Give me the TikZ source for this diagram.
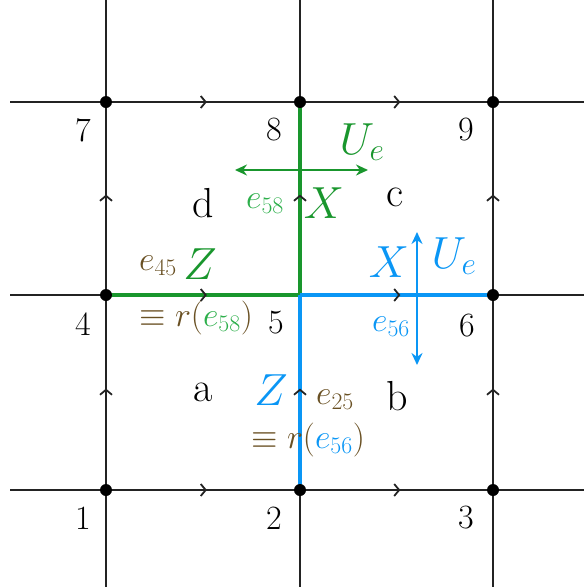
\RequirePackage{fix-cm}
\documentclass[tikz,border=0pt]{standalone}
\usetikzlibrary{arrows.meta,decorations.markings}
\definecolor{cgreen}{RGB}{25,150,45}
\definecolor{clgreen}{RGB}{45,175,75}
\definecolor{cblue}{RGB}{10,150,245}
\definecolor{cbrown}{RGB}{105,80,35}
\definecolor{cgrid}{RGB}{35,35,35}
\tikzset{
  gridline/.style={line width=2.8pt, cgrid},
  thickg/.style={line width=4.8pt, cgreen},
  thickb/.style={line width=4.8pt, cblue},
  midarrow/.style={decoration={markings, mark=at position 0.52 with {\arrow[cgrid,line width=1.8pt]{Straight Barb[length=5pt,width=12pt]}}}, postaction={decorate}},
  vdot/.style={circle, fill=black, inner sep=0pt, minimum size=12pt},
  num/.style={font=\fontsize{34}{38}\selectfont},
  face/.style={font=\fontsize{42}{46}\selectfont},
  bigsym/.style={font=\fontsize{45}{49}\selectfont, inner sep=0.5pt},
  lab/.style={font=\fontsize{34}{38}\selectfont, inner sep=0.5pt},
  dblarrow/.style={{Stealth[length=12pt,width=11pt]}-{Stealth[length=12pt,width=11pt]}, line width=2.2pt},
}
\begin{document}
\begin{tikzpicture}[x=1pt,y=-1pt]
\useasboundingbox (0,0) rectangle (584,587);
% vertices
\coordinate (v7) at (106,102); \coordinate (v8) at (300,102); \coordinate (v9) at (493,102);
\coordinate (v4) at (106,295); \coordinate (v5) at (300,295); \coordinate (v6) at (493,295);
\coordinate (v1) at (106,490); \coordinate (v2) at (300,490); \coordinate (v3) at (493,490);
% free ends
\coordinate (l7) at (10,102); \coordinate (r9) at (584,102);
\coordinate (l4) at (10,295); \coordinate (r6) at (584,295);
\coordinate (l1) at (10,490); \coordinate (r3) at (584,490);
\coordinate (t7) at (106,0); \coordinate (t8) at (300,0); \coordinate (t9) at (493,0);
\coordinate (b1) at (106,587); \coordinate (b2) at (300,587); \coordinate (b3) at (493,587);
% grid
\draw[gridline] (l7) -- (r9) (l4) -- (r6) (l1) -- (r3);
\draw[gridline] (t7) -- (b1) (t8) -- (b2) (t9) -- (b3);
% coloured edges
\draw[thickg] (v8) -- (v5) (v4) -- (v5);
\draw[thickb] (v5) -- (v6) (v5) -- (v2);
% orientation arrows
\foreach \a/\b in {v7/v8,v8/v9,v4/v5,v5/v6,v1/v2,v2/v3,v1/v4,v4/v7,v2/v5,v5/v8,v3/v6,v6/v9}
  \path[midarrow] (\a) -- (\b);
% dots
\foreach \v in {v1,v2,v3,v4,v6,v7,v8,v9} \node[vdot] (d\v) at (\v) {};
% vertex numbers
\node[num] (n7) at (83,130) {7};
\node[num] (n8) at (274,130) {8};
\node[num] (n9) at (466,130) {9};
\node[num] (n4) at (83,324) {4};
\node[num] (n5) at (276,323) {5};
\node[num] (n6) at (467,326) {6};
\node[num] (n1) at (83,518) {1};
\node[num] (n2) at (274,518) {2};
\node[num] (n3) at (466,518) {3};
% faces
\node[face] (fd) at (203,203) {d};
\node[face] (fc) at (395,197) {c};
\node[face] (fa) at (203,392) {a};
\node[face] (fb) at (397,396) {b};
% green operator
\coordinate (ga1) at (235,170); \coordinate (ga2) at (368,170);
\draw[dblarrow, cgreen] (ga1) -- (ga2);
\node[bigsym, text=cgreen] (Ug) at (362,142) {$U_e$};
\node[lab, text=clgreen] (e58) at (265,204) {$e_{58}$};
\node[bigsym, text=cgreen] (Xg) at (324,203) {$X$};
\node[lab, text=cbrown] (e45) at (158,266) {$e_{45}$};
\node[bigsym, text=cgreen] (Zg) at (200,264) {$Z$};
\node[lab, text=cbrown] (r58) at (196,318) {$\equiv r(\textcolor{clgreen}{e_{58}})$};
% blue operator
\coordinate (ba1) at (417,232); \coordinate (ba2) at (417,365);
\draw[dblarrow, cblue] (ba1) -- (ba2);
\node[bigsym, text=cblue] (Xb) at (389,262) {$X$};
\node[bigsym, text=cblue] (Ub) at (454,256) {$U_e$};
\node[lab, text=cblue] (e56) at (391,327) {$e_{56}$};
\node[bigsym, text=cblue] (Zb) at (271,390) {$Z$};
\node[lab, text=cbrown] (e25) at (335,400) {$e_{25}$};
\node[lab, text=cbrown] (r56) at (308,440) {$\equiv r(\textcolor{cblue}{e_{56}})$};
\end{tikzpicture}
\end{document}
